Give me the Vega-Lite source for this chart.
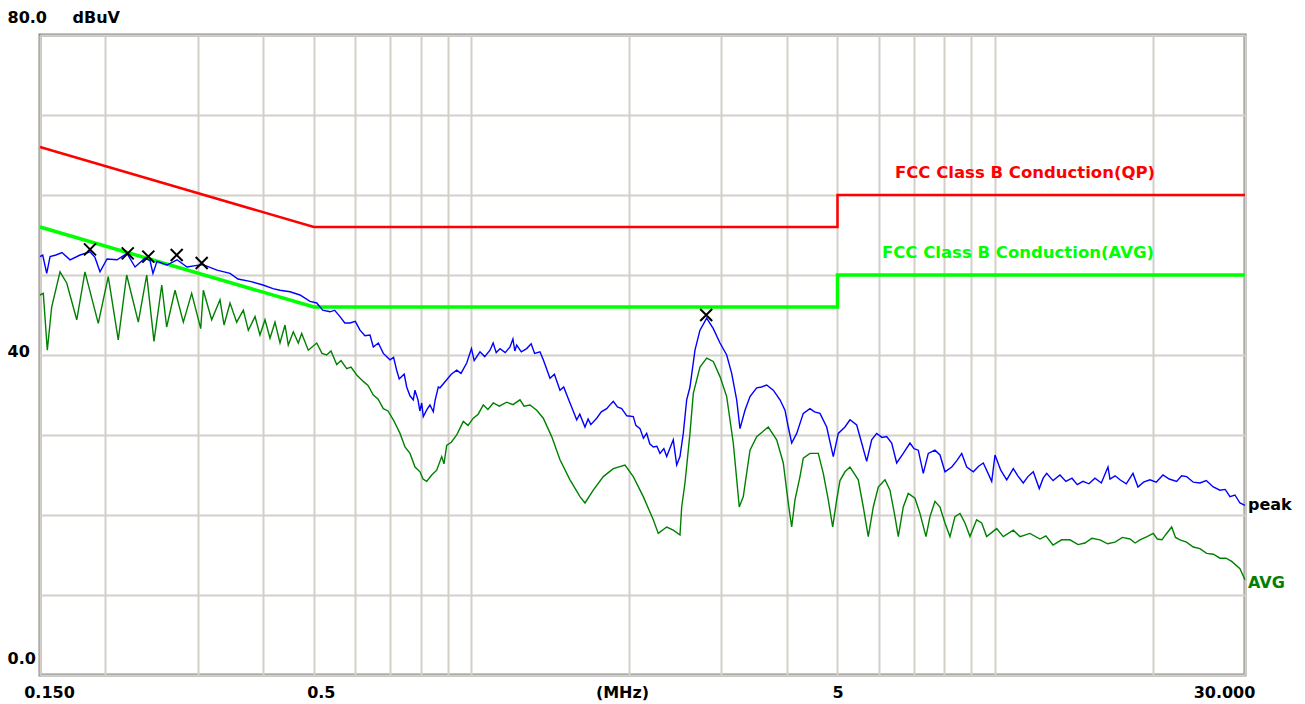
{
  "$schema": "https://vega.github.io/schema/vega-lite/v6.json",
  "width": 1205,
  "height": 640,
  "autosize": {"type": "none"},
  "padding": {"left": 40, "top": 35, "right": 60, "bottom": 29},
  "background": "white",
  "config": {"view": {"stroke": "#888888", "strokeWidth": 3}, "font": "DejaVu Sans"},
  "datasets": {
    "qp": [{"i":1,"f":0.15,"v":66},{"i":2,"f":0.5,"v":56},{"i":3,"f":5,"v":56},{"i":4,"f":5,"v":60},{"i":5,"f":30,"v":60}],
    "avglim": [{"i":1,"f":0.15,"v":56},{"i":2,"f":0.5,"v":46},{"i":3,"f":5,"v":46},{"i":4,"f":5,"v":50},{"i":5,"f":30,"v":50}],
    "peak": [
      {"f":0.15,"v":52.3},{"f":0.1518,"v":52.5},{"f":0.1545,"v":50.2},{"f":0.1568,"v":52.3},{"f":0.1609,"v":52.5},{"f":0.1652,"v":52.8},{"f":0.1712,"v":51.9},{"f":0.1789,"v":52.5},{"f":0.1869,"v":52.9},{"f":0.191,"v":52.2},{"f":0.1953,"v":50.4},{"f":0.2014,"v":52},{"f":0.2105,"v":51.9},{"f":0.2199,"v":52.7},{"f":0.2278,"v":51},{"f":0.238,"v":52.1},{"f":0.2433,"v":51.8},{"f":0.2465,"v":50.2},{"f":0.2509,"v":51.7},{"f":0.2622,"v":51.25},{"f":0.274,"v":51.9},{"f":0.2863,"v":51},{"f":0.2991,"v":51.2},{"f":0.3072,"v":51.3},{"f":0.3267,"v":50.6},{"f":0.3459,"v":50.2},{"f":0.3582,"v":49.5},{"f":0.3777,"v":49.2},{"f":0.3999,"v":48.75},{"f":0.4179,"v":48.3},{"f":0.4309,"v":48.1},{"f":0.4503,"v":47.9},{"f":0.4705,"v":47.5},{"f":0.4917,"v":46.7},{"f":0.5064,"v":46.5},{"f":0.52,"v":45.6},{"f":0.5369,"v":45.4},{"f":0.548,"v":45.6},{"f":0.561,"v":44.8},{"f":0.573,"v":44.0},{"f":0.5862,"v":44},{"f":0.6,"v":44.2},{"f":0.6126,"v":43.1},{"f":0.626,"v":42.4},{"f":0.6401,"v":42.5},{"f":0.6495,"v":41},{"f":0.664,"v":41.5},{"f":0.6787,"v":40.2},{"f":0.6989,"v":39.4},{"f":0.71,"v":39.7},{"f":0.7198,"v":38.1},{"f":0.728,"v":37.0},{"f":0.7358,"v":37.3},{"f":0.744,"v":37.6},{"f":0.7522,"v":36},{"f":0.763,"v":34.9},{"f":0.7743,"v":34.4},{"f":0.78,"v":35.6},{"f":0.7905,"v":34.4},{"f":0.797,"v":33.0},{"f":0.8035,"v":34},{"f":0.8091,"v":32.3},{"f":0.8224,"v":33.2},{"f":0.8333,"v":33.75},{"f":0.8455,"v":32.9},{"f":0.852,"v":34.3},{"f":0.8643,"v":36},{"f":0.8708,"v":35.9},{"f":0.8968,"v":36.9},{"f":0.915,"v":37.6},{"f":0.9371,"v":38.1},{"f":0.955,"v":37.7},{"f":0.9793,"v":39},{"f":1.0,"v":40.8},{"f":1.012,"v":39.3},{"f":1.0382,"v":40.4},{"f":1.06,"v":39.8},{"f":1.0849,"v":40.6},{"f":1.1,"v":41.5},{"f":1.115,"v":40.3},{"f":1.1337,"v":40.8},{"f":1.16,"v":40.3},{"f":1.1846,"v":41},{"f":1.2,"v":42.0},{"f":1.21,"v":40.5},{"f":1.22,"v":41.25},{"f":1.245,"v":40.4},{"f":1.2748,"v":40.8},{"f":1.3,"v":41.4},{"f":1.32,"v":40.2},{"f":1.3516,"v":40.4},{"f":1.3714,"v":39.4},{"f":1.4124,"v":37.1},{"f":1.44,"v":37.6},{"f":1.4759,"v":35.6},{"f":1.5,"v":36.0},{"f":1.5422,"v":34},{"f":1.56,"v":33.2},{"f":1.5883,"v":31.9},{"f":1.61,"v":32.6},{"f":1.6473,"v":31},{"f":1.67,"v":32.0},{"f":1.69,"v":31.3},{"f":1.7343,"v":32.1},{"f":1.77,"v":32.9},{"f":1.8123,"v":33.3},{"f":1.84,"v":33.8},{"f":1.8657,"v":34.2},{"f":1.9,"v":33.5},{"f":1.9357,"v":33.3},{"f":1.98,"v":32.4},{"f":2.0372,"v":32.3},{"f":2.06,"v":31.2},{"f":2.0981,"v":30.8},{"f":2.13,"v":29.6},{"f":2.1606,"v":30.2},{"f":2.19,"v":28.9},{"f":2.2243,"v":28.5},{"f":2.26,"v":28.6},{"f":2.2909,"v":27.7},{"f":2.33,"v":28.3},{"f":2.3594,"v":27.3},{"f":2.4287,"v":29.4},{"f":2.4655,"v":26.25},{"f":2.5014,"v":27.3},{"f":2.5379,"v":30.2},{"f":2.5763,"v":34.4},{"f":2.6138,"v":36},{"f":2.6719,"v":40.6},{"f":2.7312,"v":43.1},{"f":2.8131,"v":44.6},{"f":2.8959,"v":43.3},{"f":2.9825,"v":41.5},{"f":3.0716,"v":40},{"f":3.1398,"v":37.7},{"f":3.2096,"v":34.4},{"f":3.2567,"v":30.8},{"f":3.3291,"v":33.1},{"f":3.4031,"v":34.8},{"f":3.5046,"v":35.9},{"f":3.58,"v":36.0},{"f":3.6622,"v":36.25},{"f":3.7698,"v":35.6},{"f":3.8829,"v":34.4},{"f":3.9691,"v":33.1},{"f":4.0269,"v":31},{"f":4.0878,"v":29},{"f":4.1789,"v":30.2},{"f":4.3016,"v":32.7},{"f":4.43,"v":33.3},{"f":4.52,"v":32.9},{"f":4.6291,"v":32.7},{"f":4.7677,"v":31},{"f":4.9082,"v":27.3},{"f":5.0172,"v":30.2},{"f":5.1672,"v":31},{"f":5.2821,"v":31.9},{"f":5.4399,"v":31.25},{"f":5.561,"v":29},{"f":5.6846,"v":26.7},{"f":5.8109,"v":29.4},{"f":5.9402,"v":30.2},{"f":6.08,"v":29.7},{"f":6.207,"v":29.8},{"f":6.3452,"v":29},{"f":6.4862,"v":26.5},{"f":6.6768,"v":27.7},{"f":6.8766,"v":29},{"f":7.0,"v":28.3},{"f":7.1322,"v":28.1},{"f":7.2909,"v":25.2},{"f":7.4531,"v":27.7},{"f":7.6754,"v":28.1},{"f":7.8461,"v":27.5},{"f":8.0205,"v":25.4},{"f":8.2619,"v":26},{"f":8.45,"v":26.8},{"f":8.633,"v":27.7},{"f":8.825,"v":26},{"f":9.0852,"v":25.4},{"f":9.3,"v":26.1},{"f":9.4932,"v":26.5},{"f":9.8505,"v":24.2},{"f":9.9947,"v":27.5},{"f":10.25,"v":25.6},{"f":10.522,"v":24.4},{"f":10.83,"v":25.8},{"f":11.05,"v":24.9},{"f":11.317,"v":24},{"f":11.55,"v":24.8},{"f":11.825,"v":25.4},{"f":12.141,"v":23.3},{"f":12.35,"v":24.6},{"f":12.543,"v":25.2},{"f":12.9,"v":24.3},{"f":13.298,"v":25},{"f":13.65,"v":24.2},{"f":14.018,"v":24.6},{"f":14.35,"v":23.8},{"f":14.713,"v":24.2},{"f":15.1,"v":23.9},{"f":15.51,"v":24.6},{"f":15.95,"v":24.0},{"f":16.423,"v":26},{"f":16.569,"v":24.5},{"f":16.95,"v":24.9},{"f":17.313,"v":24.4},{"f":17.8,"v":23.9},{"f":18.332,"v":25.2},{"f":18.738,"v":23.5},{"f":19.2,"v":24.1},{"f":19.754,"v":24.4},{"f":20.3,"v":24.1},{"f":20.916,"v":25},{"f":21.5,"v":24.5},{"f":22.214,"v":24.2},{"f":22.7,"v":24.9},{"f":23.213,"v":24.8},{"f":23.9,"v":24.1},{"f":24.611,"v":24},{"f":25.3,"v":24.3},{"f":26.093,"v":23.5},{"f":26.873,"v":23.1},{"f":27.5,"v":23.2},{"f":28.082,"v":22.3},{"f":28.7,"v":22.5},{"f":29.342,"v":21.5},{"f":30,"v":21.2}
    ],
    "avg": [
      {"f":0.15,"v":47.5},{"f":0.1522,"v":47.7},{"f":0.1549,"v":40.6},{"f":0.1579,"v":46},{"f":0.1638,"v":50.4},{"f":0.1687,"v":49},{"f":0.1763,"v":44.4},{"f":0.1828,"v":50.4},{"f":0.1938,"v":43.96},{"f":0.2025,"v":49.8},{"f":0.2116,"v":41.9},{"f":0.2196,"v":50},{"f":0.2311,"v":44.1},{"f":0.2398,"v":50},{"f":0.2476,"v":41.7},{"f":0.2562,"v":48.75},{"f":0.2618,"v":43.5},{"f":0.2716,"v":48.1},{"f":0.2817,"v":44.1},{"f":0.2922,"v":47.7},{"f":0.3041,"v":43.3},{"f":0.3076,"v":48.1},{"f":0.3191,"v":44.4},{"f":0.331,"v":46.9},{"f":0.3369,"v":43.75},{"f":0.3459,"v":46.5},{"f":0.3562,"v":44.1},{"f":0.3667,"v":45.6},{"f":0.3749,"v":43.1},{"f":0.3861,"v":44.8},{"f":0.3946,"v":42.5},{"f":0.4034,"v":44.4},{"f":0.4124,"v":42.1},{"f":0.4215,"v":44.1},{"f":0.4309,"v":41.5},{"f":0.4405,"v":43.75},{"f":0.4469,"v":41.25},{"f":0.4569,"v":42.9},{"f":0.467,"v":41.5},{"f":0.474,"v":42.7},{"f":0.488,"v":40.6},{"f":0.5064,"v":41.5},{"f":0.5183,"v":40.2},{"f":0.5291,"v":40},{"f":0.5392,"v":40.5},{"f":0.5529,"v":38.8},{"f":0.5635,"v":39.3},{"f":0.5778,"v":38.3},{"f":0.5888,"v":38.5},{"f":0.6038,"v":37.5},{"f":0.6215,"v":36.7},{"f":0.6345,"v":36.2},{"f":0.6495,"v":35},{"f":0.663,"v":34.5},{"f":0.6787,"v":33.3},{"f":0.6928,"v":33},{"f":0.7092,"v":31.9},{"f":0.7304,"v":30.2},{"f":0.7466,"v":28.5},{"f":0.7632,"v":27.7},{"f":0.7802,"v":26},{"f":0.7975,"v":25.4},{"f":0.8081,"v":24.5},{"f":0.8213,"v":24.2},{"f":0.8396,"v":25},{"f":0.8583,"v":25.6},{"f":0.8773,"v":27.3},{"f":0.8862,"v":26.4},{"f":0.8968,"v":28.7},{"f":0.915,"v":29.1},{"f":0.9371,"v":30},{"f":0.95,"v":30.8},{"f":0.9647,"v":31.7},{"f":0.985,"v":31.2},{"f":1.0081,"v":32.1},{"f":1.03,"v":32.6},{"f":1.0534,"v":33.75},{"f":1.075,"v":33.2},{"f":1.1008,"v":34},{"f":1.13,"v":33.6},{"f":1.1675,"v":34.1},{"f":1.2,"v":33.8},{"f":1.2379,"v":34.4},{"f":1.26,"v":33.6},{"f":1.2935,"v":33.75},{"f":1.3322,"v":33.1},{"f":1.3714,"v":32.1},{"f":1.423,"v":29.8},{"f":1.4759,"v":26.9},{"f":1.5422,"v":24.4},{"f":1.6115,"v":22.3},{"f":1.6473,"v":21.5},{"f":1.7086,"v":23.1},{"f":1.7855,"v":24.8},{"f":1.8657,"v":25.8},{"f":1.9641,"v":26.25},{"f":2.0372,"v":24.8},{"f":2.1286,"v":22.3},{"f":2.2243,"v":19.4},{"f":2.2738,"v":17.7},{"f":2.3594,"v":18.5},{"f":2.4287,"v":18.1},{"f":2.5014,"v":17.5},{"f":2.5202,"v":21},{"f":2.5569,"v":24},{"f":2.6138,"v":30.2},{"f":2.6522,"v":35.2},{"f":2.7312,"v":38.5},{"f":2.8131,"v":39.6},{"f":2.8959,"v":39.2},{"f":2.9825,"v":37.3},{"f":3.0716,"v":34.8},{"f":3.162,"v":29},{"f":3.2466,"v":21},{"f":3.3042,"v":22.3},{"f":3.4031,"v":28.1},{"f":3.5046,"v":29.8},{"f":3.6879,"v":31},{"f":3.8268,"v":29.4},{"f":3.9395,"v":26.5},{"f":4.0269,"v":21.5},{"f":4.0878,"v":18.5},{"f":4.1474,"v":21.9},{"f":4.2396,"v":24.8},{"f":4.3016,"v":27.1},{"f":4.43,"v":27.7},{"f":4.595,"v":27.7},{"f":4.6971,"v":25.2},{"f":4.8015,"v":21.9},{"f":4.8953,"v":18.5},{"f":4.982,"v":21.9},{"f":5.0549,"v":24.3},{"f":5.1672,"v":25.4},{"f":5.2821,"v":26},{"f":5.4785,"v":24.4},{"f":5.6003,"v":21},{"f":5.7246,"v":17.3},{"f":5.8518,"v":21},{"f":5.9819,"v":23.5},{"f":6.1608,"v":24.4},{"f":6.2978,"v":23.1},{"f":6.4376,"v":19.8},{"f":6.5318,"v":17.3},{"f":6.6768,"v":21},{"f":6.8253,"v":22.7},{"f":7.0292,"v":22.1},{"f":7.1853,"v":20.2},{"f":7.3778,"v":17.3},{"f":7.5084,"v":19.8},{"f":7.6754,"v":21.7},{"f":7.8461,"v":21},{"f":8.0205,"v":19},{"f":8.1989,"v":17.3},{"f":8.381,"v":19.8},{"f":8.5674,"v":20.2},{"f":8.7579,"v":19},{"f":8.9525,"v":17.3},{"f":9.2198,"v":19.4},{"f":9.4248,"v":19},{"f":9.6344,"v":17.3},{"f":10.067,"v":18.3},{"f":10.364,"v":17.3},{"f":10.83,"v":18.1},{"f":11.153,"v":17.3},{"f":11.654,"v":17.7},{"f":12.178,"v":17},{"f":12.5,"v":17.4},{"f":12.895,"v":16.25},{"f":13.4,"v":16.9},{"f":13.896,"v":16.9},{"f":14.4,"v":16.3},{"f":14.843,"v":16.5},{"f":15.3,"v":17.1},{"f":15.855,"v":16.9},{"f":16.4,"v":16.4},{"f":16.936,"v":16.6},{"f":17.5,"v":17.2},{"f":18.091,"v":17},{"f":18.5,"v":16.5},{"f":18.903,"v":16.9},{"f":19.5,"v":17.3},{"f":20.043,"v":17.7},{"f":20.4,"v":17.0},{"f":20.824,"v":16.9},{"f":21.2,"v":17.6},{"f":21.73,"v":18.5},{"f":22.1,"v":17.2},{"f":22.539,"v":16.9},{"f":23.2,"v":16.6},{"f":23.897,"v":16},{"f":24.6,"v":15.8},{"f":25.346,"v":15.2},{"f":26.1,"v":15.1},{"f":26.873,"v":14.6},{"f":27.6,"v":14.6},{"f":28.293,"v":14.2},{"f":29.342,"v":13.3},{"f":30,"v":11.9}
    ],
    "markers": [{"f":0.1869,"v":53.2},{"f":0.2206,"v":52.7},{"f":0.2415,"v":52.3},{"f":0.2736,"v":52.5},{"f":0.3054,"v":51.5},{"f":2.8068,"v":45}],
    "notes": [
      {"k":"qp","f":6.437,"v":62.75,"t":"FCC Class B Conduction(QP)"},
      {"k":"avglim","f":6.08,"v":52.75,"t":"FCC Class B Conduction(AVG)"},
      {"k":"peak","f":30,"v":21.25,"t":"peak"},
      {"k":"avg","f":30,"v":11.5,"t":"AVG"}
    ]
  },
  "encoding": {
    "x": {
      "field": "f", "type": "quantitative",
      "scale": {"type": "log", "domain": [0.15, 30], "nice": false},
      "axis": {
        "values": [0.15,0.2,0.3,0.4,0.5,0.6,0.7,0.8,0.9,1,2,3,4,5,6,7,8,9,10,20,30],
        "labelExpr": "datum.value == 0.15 ? '0.150' : datum.value == 0.5 ? '0.5' : datum.value == 5 ? '5' : datum.value == 30 ? '30.000' : ''",
        "grid": true, "gridColor": "#d4d0c8", "gridWidth": 2,
        "domain": false, "ticks": false, "tickSize": 0,
        "labelFont": "DejaVu Sans", "labelFontWeight": "bold", "labelFontSize": 16, "labelColor": "black",
        "labelBaseline": "alphabetic", "labelPadding": 22, "labelAlign": "center",
        "labelFlush": false, "labelOverlap": false, "labelBound": false,
        "labelOffset": {"condition": [{"test": "datum.value == 0.15", "value": 9}, {"test": "datum.value == 0.5", "value": 7}, {"test": "datum.value == 30", "value": -21}], "value": 0},
        "title": "(MHz)", "titleX": 582, "titleY": 22, "titleAlign": "center", "titleBaseline": "alphabetic",
        "titleFont": "DejaVu Sans", "titleFontWeight": "bold", "titleFontSize": 16, "titleColor": "black"
      }
    },
    "y": {
      "field": "v", "type": "quantitative",
      "scale": {"domain": [0, 80], "nice": false, "zero": false},
      "axis": {
        "values": [0,10,20,30,40,50,60,70,80],
        "labelExpr": "datum.value == 80 ? '80.0' : datum.value == 40 ? '40' : datum.value == 0 ? '0.0' : ''",
        "grid": true, "gridColor": "#d4d0c8", "gridWidth": 2,
        "domain": false, "ticks": false, "tickSize": 0,
        "labelFont": "DejaVu Sans", "labelFontWeight": "bold", "labelFontSize": 16, "labelColor": "black",
        "labelAlign": "left", "labelBaseline": "alphabetic", "labelPadding": 33,
        "labelFlush": false, "labelOverlap": false, "labelBound": false,
        "labelOffset": {"condition": [{"test": "datum.value == 80", "value": -12.5}, {"test": "datum.value == 0", "value": -12}], "value": 1},
        "title": "dBuV", "titleAngle": 0, "titleX": 32, "titleY": -12.5, "titleAlign": "left", "titleBaseline": "alphabetic",
        "titleFont": "DejaVu Sans", "titleFontWeight": "bold", "titleFontSize": 16, "titleColor": "black"
      }
    }
  },
  "layer": [
    {"data": {"name": "qp"}, "mark": {"type": "line", "color": "#ff0000", "strokeWidth": 2.5}, "encoding": {"order": {"field": "i"}}},
    {"data": {"name": "avglim"}, "mark": {"type": "line", "color": "#00ff00", "strokeWidth": 3.5}, "encoding": {"order": {"field": "i"}}},
    {"data": {"name": "avg"}, "mark": {"type": "line", "color": "#008000", "strokeWidth": 1.4}, "encoding": {}},
    {"data": {"name": "peak"}, "mark": {"type": "line", "color": "#0000ff", "strokeWidth": 1.4}, "encoding": {}},
    {"data": {"name": "markers"}, "mark": {"type": "point", "shape": "M-1,-1L1,1M-1,1L1,-1", "filled": false, "stroke": "black", "strokeWidth": 2, "size": 144, "opacity": 1}},
    {"data": {"name": "notes"}, "transform": [{"filter": "datum.k == 'qp'"}], "mark": {"type": "text", "align": "left", "baseline": "middle", "font": "DejaVu Sans", "fontWeight": "bold", "fontSize": 16.5, "color": "#ff0000"}, "encoding": {"text": {"field": "t"}}},
    {"data": {"name": "notes"}, "transform": [{"filter": "datum.k == 'avglim'"}], "mark": {"type": "text", "align": "left", "baseline": "middle", "font": "DejaVu Sans", "fontWeight": "bold", "fontSize": 16.5, "color": "#00ff00"}, "encoding": {"text": {"field": "t"}}},
    {"data": {"name": "notes"}, "transform": [{"filter": "datum.k == 'peak'"}], "mark": {"type": "text", "align": "left", "baseline": "middle", "dx": 3, "font": "DejaVu Sans", "fontWeight": "bold", "fontSize": 16, "color": "black"}, "encoding": {"text": {"field": "t"}}},
    {"data": {"name": "notes"}, "transform": [{"filter": "datum.k == 'avg'"}], "mark": {"type": "text", "align": "left", "baseline": "middle", "dx": 3, "font": "DejaVu Sans", "fontWeight": "bold", "fontSize": 16, "color": "#008000"}, "encoding": {"text": {"field": "t"}}}
  ]
}
